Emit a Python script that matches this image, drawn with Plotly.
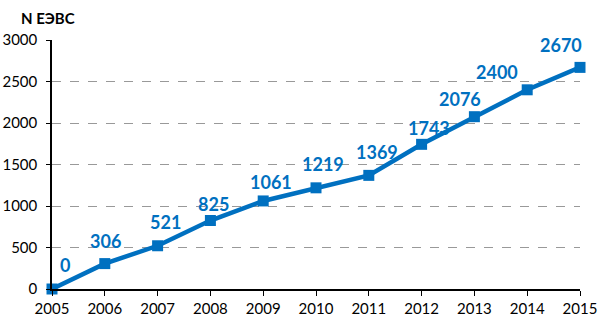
import plotly.graph_objects as go

years = [2005, 2006, 2007, 2008, 2009, 2010, 2011, 2012, 2013, 2014, 2015]
values = [0, 306, 521, 825, 1061, 1219, 1369, 1743, 2076, 2400, 2670]
label_dx = [13, 1, 8, 3, 8, 7, 8, 7, -14, -30, -19]
label_dy = [24, 23, 24, 17, 19, 24, 23, 16, 18, 18, 22]
y_ticks = [0, 500, 1000, 1500, 2000, 2500, 3000]
title_text = "N ЕЭВС"

blue = "#0070C0"
fig = go.Figure()
fig.add_trace(go.Scatter(
    x=years, y=values, mode="lines+markers",
    line=dict(color=blue, width=4.5),
    marker=dict(symbol="square", size=11, color=blue),
    cliponaxis=False, showlegend=False,
))
for x, y, dx, dy in zip(years, values, label_dx, label_dy):
    fig.add_annotation(x=x, y=y, text=f"<b>{y}</b>", showarrow=False,
                       xshift=dx, yshift=dy,
                       font=dict(family="Lato, Open Sans, sans-serif", size=18, color=blue))
fig.add_annotation(xref="paper", yref="paper", x=-0.062, y=1.09, xanchor="left", yanchor="middle",
                   text=f"<b>{title_text}</b>", showarrow=False,
                   font=dict(family="Lato, Open Sans, sans-serif", size=15, color="black"))
fig.update_layout(
    width=598, height=323,
    margin=dict(l=52, r=18, t=40, b=34, autoexpand=False),
    paper_bgcolor="white", plot_bgcolor="white",
    font=dict(family="Lato, Open Sans, sans-serif", size=15, color="black"),
)
fig.update_xaxes(range=[2005, 2015], tickmode="array", tickvals=years,
                 ticks="outside", ticklen=5, tickcolor="black", automargin=False,
                 showline=True, linecolor="black", linewidth=1.5,
                 showgrid=False, zeroline=False)
fig.update_yaxes(range=[0, 3000], tickmode="array", tickvals=y_ticks,
                 ticks="outside", ticklen=4, tickcolor="black", automargin=False,
                 ticklabelstandoff=6,
                 showline=True, linecolor="black", linewidth=1.5,
                 showgrid=True, gridcolor="#999999", griddash="dash", gridwidth=1,
                 zeroline=False)
fig.write_html("out.html")
